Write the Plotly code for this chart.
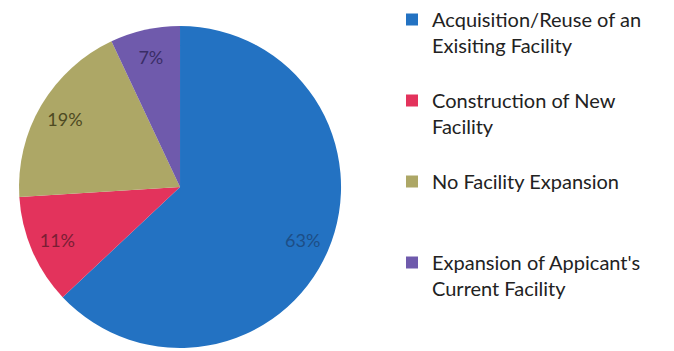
import plotly.graph_objects as go

# Facility plans reported by applicants
labels = [
    "Acquisition/Reuse of an<br>Exisiting Facility<br>\u00a0",
    "Construction of New<br>Facility<br>\u00a0",
    "No Facility Expansion<br>\u00a0<br>\u00a0",
    "Expansion of Appicant's<br>Current Facility",
]
shares = [63, 11, 19, 7]
slice_colors = ["#2372C2", "#E3335C", "#ADA766", "#6F5AAC"]
text_colors = ["#1D4E86", "#7A1E34", "#4D4A22", "#3A2D66"]

pie_domain = dict(x=[0.0282, 0.506], y=[0.0085, 0.926])

fig = go.Figure()

# Filled slices (legend comes from this trace)
fig.add_trace(
    go.Pie(
        labels=labels,
        values=shares,
        sort=False,
        direction="clockwise",
        rotation=0,
        marker=dict(colors=slice_colors, line=dict(width=0)),
        textinfo="none",
        domain=pie_domain,
        hoverinfo="skip",
    )
)

# Transparent ring on top so the percentage labels sit out toward the rim
fig.add_trace(
    go.Pie(
        labels=labels,
        values=shares,
        sort=False,
        direction="clockwise",
        rotation=0,
        hole=0.66,
        marker=dict(colors=["rgba(0,0,0,0)"] * len(shares), line=dict(width=0)),
        texttemplate="%{value}%",
        textposition="inside",
        insidetextorientation="horizontal",
        textfont=dict(family="Lato", size=18, color=text_colors),
        domain=pie_domain,
        showlegend=False,
        hoverinfo="skip",
    )
)

fig.update_layout(
    width=674,
    height=351,
    margin=dict(l=0, r=0, t=0, b=0),
    paper_bgcolor="white",
    plot_bgcolor="white",
    showlegend=True,
    legend=dict(
        x=0.5816,
        xanchor="left",
        y=1.0,
        yanchor="top",
        valign="top",
        font=dict(family="Lato", size=20, color="#222222"),
        bgcolor="rgba(0,0,0,0)",
    ),
)

fig.write_html("out.html")
